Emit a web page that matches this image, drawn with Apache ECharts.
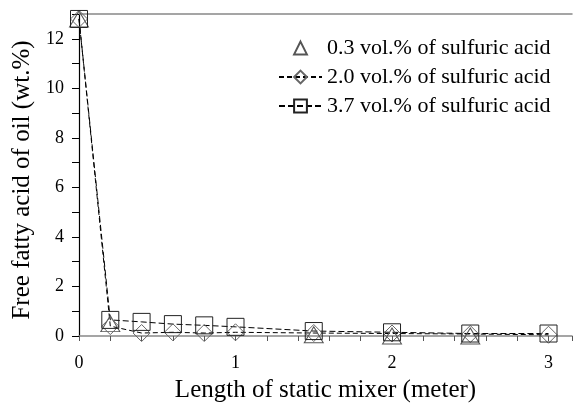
<!DOCTYPE html>
<html><head><meta charset="utf-8">
<script src="https://cdn.jsdelivr.net/npm/echarts@6/dist/echarts.min.js"></script>
<style>html,body{margin:0;padding:0;background:#fff}#c{width:577px;height:405px}</style>
</head><body><div id="c"></div>
<script>
var lengths = [0, 0.2, 0.4, 0.6, 0.8, 1.0, 1.5, 2.0, 2.5, 3.0];
var ffa03 = [12.8, 0.5, -0.1, -0.1, -0.1, -0.1, 0.05, 0.0, 0.0, -0.05];
var ffa20 = [12.8, 0.4, 0.12, 0.15, 0.12, 0.15, 0.12, 0.1, 0.08, 0.05];
var ffa37 = [12.8, 0.65, 0.57, 0.48, 0.43, 0.37, 0.2, 0.15, 0.1, 0.1];
var names = ['0.3 vol.% of sulfuric acid', '2.0 vol.% of sulfuric acid', '3.7 vol.% of sulfuric acid'];
var xTicks = [0, 1, 2, 3];
var yTicks = [0, 2, 4, 6, 8, 10, 12];

function pairs(v){ return lengths.map(function(x,i){ return [x, v[i]]; }); }
var font = '"Liberation Serif","Times New Roman",serif';
var chart = echarts.init(document.getElementById('c'));
chart.setOption({
  animation: false,
  backgroundColor: '#fff',
  grid: {left: 79, top: 14, right: 5, bottom: 69, outerBoundsMode: 'none', containLabel: false},
  legend: {
    orient: 'vertical', left: 273, top: 32, itemGap: 7, itemWidth: 43, itemHeight: 16,
    textStyle: {fontFamily: font, fontSize: 22, color: '#000'},
    data: names
  },
  xAxis: [{
    type: 'value', min: 0, max: 3.15, interval: 1,
    name: 'Length of static mixer (meter)', nameLocation: 'middle', nameGap: 42,
    nameTextStyle: {fontFamily: font, fontSize: 25, color: '#000'},
    axisLine: {lineStyle: {color: '#888', width: 1.5}},
    axisTick: {show: true, length: 5, lineStyle: {color: '#555'}},
    minorTick: {show: true, splitNumber: 5, length: 5, lineStyle: {color: '#555'}},
    axisLabel: {fontFamily: font, fontSize: 18, color: '#000', margin: 18, showMaxLabel: false,
      formatter: function(v){ return xTicks.indexOf(v) >= 0 ? String(v) : ''; }},
    splitLine: {show: false}
  }, {
    type: 'value', position: 'top', min: 0, max: 3.15,
    axisLine: {show: true, lineStyle: {color: '#888', width: 1.5}},
    axisTick: {show: false}, axisLabel: {show: false}, splitLine: {show: false}
  }],
  yAxis: {
    type: 'value', min: 0, max: 13, interval: 2,
    name: 'Free fatty acid of oil (wt.%)', nameLocation: 'middle', nameGap: 43,
    nameTextStyle: {fontFamily: font, fontSize: 25, color: '#000', padding: [0, 10, 0, 0]},
    axisLine: {show: true, lineStyle: {color: '#000', width: 1.2}},
    axisTick: {show: true, length: 7, lineStyle: {color: '#000'}},
    minorTick: {show: true, splitNumber: 2, length: 7, lineStyle: {color: '#000'}},
    axisLabel: {fontFamily: font, fontSize: 18, color: '#000', margin: 15, showMaxLabel: false,
      formatter: function(v){ return yTicks.indexOf(v) >= 0 ? String(v) : ''; }},
    splitLine: {show: false}
  },
  series: [{
    name: names[0], type: 'line', data: pairs(ffa03),
    symbol: 'triangle', symbolSize: [19, 16],
    lineStyle: {width: 0, opacity: 0},
    itemStyle: {color: 'rgba(0,0,0,0)', borderColor: '#555', borderWidth: 1}
  }, {
    name: names[1], type: 'line', data: pairs(ffa20),
    symbol: 'diamond', symbolSize: 17,
    lineStyle: {color: '#000', width: 1, type: [5, 3]},
    itemStyle: {color: 'rgba(0,0,0,0)', borderColor: '#666', borderWidth: 1}
  }, {
    name: names[2], type: 'line', data: pairs(ffa37),
    symbol: 'rect', symbolSize: 17,
    lineStyle: {color: '#000', width: 1, type: [6, 3]},
    itemStyle: {color: 'rgba(0,0,0,0)', borderColor: '#222', borderWidth: 1}
  }]
});
</script></body></html>
